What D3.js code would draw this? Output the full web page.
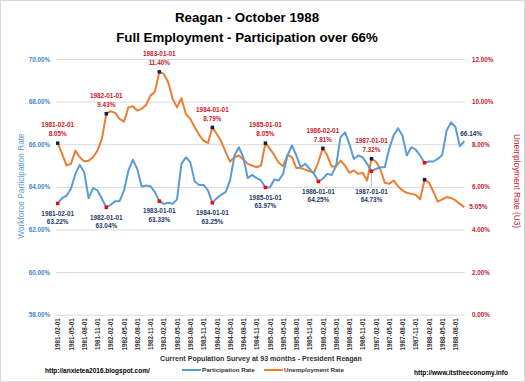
<!DOCTYPE html>
<html><head><meta charset="utf-8">
<script src="https://cdn.jsdelivr.net/npm/d3@7/dist/d3.min.js"></script>
<style>
html,body{margin:0;padding:0;background:#fff;}
svg{display:block;font-family:"Liberation Sans",Arial,sans-serif;}
</style></head>
<body>
<svg id="chart" width="525" height="382"></svg>
<script>
// ---------- DATA ----------
const startMonth = "1981-02-01";
const monthCount = 93;
const participation = [
 63.22,63.47,63.59,63.91,64.61,65.03,64.69,63.47,63.94,63.83,63.44,
 63.04,63.16,63.33,63.33,63.83,64.77,65.27,64.84,64.02,64.06,64.03,63.75,
 63.33,63.20,63.25,63.20,63.41,65.08,65.39,65.16,64.25,64.09,64.09,63.83,
 63.25,63.47,63.63,63.75,64.30,65.47,65.86,65.39,64.41,64.56,64.41,64.30,
 63.97,63.97,64.34,64.30,64.61,65.47,65.94,65.47,64.92,65.08,64.84,64.61,
 64.25,64.38,64.61,64.56,65.00,66.33,66.56,66.02,65.31,65.47,65.39,65.08,
 64.73,64.84,64.92,64.92,65.78,66.41,66.75,66.41,65.47,65.86,65.75,65.47,
 65.13,65.19,65.19,65.31,65.50,66.64,67.03,66.80,65.91,66.14
];
const unemployment = [
 8.05,7.55,7.00,7.08,7.70,7.39,7.20,7.23,7.39,7.70,8.25,
 9.43,9.55,9.47,9.19,9.06,9.73,9.78,9.58,9.66,9.84,10.28,10.47,
 11.40,11.30,10.91,10.13,9.73,10.16,9.42,9.19,8.80,8.44,8.17,8.06,
 8.79,8.48,8.13,7.63,7.19,7.39,7.47,7.28,7.08,7.00,6.92,7.00,
 8.05,7.78,7.50,7.13,6.97,7.50,7.39,6.88,6.88,6.81,6.73,6.66,
 7.19,7.81,7.47,6.95,6.97,7.23,7.00,6.66,6.77,6.61,6.66,6.30,
 7.32,7.19,6.84,6.19,6.14,6.30,6.03,5.83,5.72,5.67,5.63,5.41,
 6.34,6.19,5.78,5.31,5.41,5.52,5.48,5.36,5.20,5.05
];
const leftTicks = [58,60,62,64,66,68,70];
const rightTicks = [0,2,4,6,8,10,12];
const xTickLabels = [
 "1981-02-01","1981-05-01","1981-08-01","1981-11-01","1982-02-01","1982-05-01","1982-08-01","1982-11-01",
 "1983-02-01","1983-05-01","1983-08-01","1983-11-01","1984-02-01","1984-05-01","1984-08-01","1984-11-01",
 "1985-02-01","1985-05-01","1985-08-01","1985-11-01","1986-02-01","1986-05-01","1986-08-01","1986-11-01",
 "1987-02-01","1987-05-01","1987-08-01","1987-11-01","1988-02-01","1988-05-01","1988-08-01"
];
const unemploymentPeaks = ["1981-02-01","1982-01-01","1983-01-01","1984-01-01","1985-01-01","1986-02-01","1987-01-01"];
const participationLows = ["1981-02-01","1982-01-01","1983-01-01","1984-01-01","1985-01-01","1986-01-01","1987-01-01"];
const unlabeledMarks = ["1988-01-01"];
const titleLines = ["Reagan - October 1988","Full Employment - Participation over 66%"];

// ---------- SETUP ----------
const fmtDate = d3.timeFormat("%Y-%m-%d");
const parse = d3.timeParse("%Y-%m-%d");
const start = parse(startMonth);
const dates = d3.timeMonth.range(start, d3.timeMonth.offset(start, monthCount)).map(fmtDate);
const rows = dates.map((d,i)=>({date:d, p:participation[i], u:unemployment[i]}));
const byDate = new Map(rows.map(r=>[r.date,r]));

const svg = d3.select("#chart");
const W = 525, H = 382;
const plot = {left:57.7, right:464.3, top:59, bottom:314.7};
const gridL = 56, gridR = 465;

const BLUE = "#5B9BD5", ORANGE = "#ED7D31";
const BLUE_TXT = "#3F86CF", RED_TXT = "#C8202A", NAVY = "#1F3864", DARK = "#333333";

svg.append("rect").attr("x",0.5).attr("y",0.5).attr("width",W-1).attr("height",H-1)
  .attr("fill","#fff").attr("stroke","#d9d9d9");

const x = d3.scalePoint().domain(dates).range([plot.left, plot.right]);
const yL = d3.scaleLinear().domain([58,70]).range([plot.bottom, plot.top]);
const yR = d3.scaleLinear().domain([0,12]).range([plot.bottom, plot.top]);
const pct = v => d3.format(".2f")(v) + "%";

// title
svg.append("g").selectAll("text").data(titleLines).join("text")
  .attr("x",247).attr("y",(d,i)=>22+i*20)
  .attr("text-anchor","middle").attr("font-weight","bold").attr("font-size",13.3)
  .attr("fill","#000").text(d=>d);

// left axis + gridlines
const gL = svg.append("g").attr("transform",`translate(${gridL},0)`)
  .call(d3.axisLeft(yL).tickValues(leftTicks).tickSize(-(gridR-gridL)).tickPadding(6).tickFormat(pct));
gL.select(".domain").remove();
gL.selectAll(".tick line").attr("stroke","#d9d9d9").attr("stroke-width",1);
gL.selectAll(".tick text").attr("fill",BLUE_TXT).attr("font-weight","bold").attr("font-size",6.3)
  .attr("font-family","'Liberation Sans',Arial,sans-serif");

// right axis
const gR = svg.append("g").attr("transform",`translate(${gridR},0)`)
  .call(d3.axisRight(yR).tickValues(rightTicks).tickSize(0).tickPadding(7).tickFormat(pct));
gR.select(".domain").remove();
gR.selectAll(".tick text").attr("fill",RED_TXT).attr("font-weight","bold").attr("font-size",6.3)
  .attr("font-family","'Liberation Sans',Arial,sans-serif");

// x axis
const gX = svg.append("g").attr("transform",`translate(0,${plot.bottom})`)
  .call(d3.axisBottom(x).tickValues(xTickLabels).tickSize(0).tickPadding(0));
gX.select(".domain").remove();
gX.selectAll(".tick text")
  .attr("transform","rotate(-90)").attr("text-anchor","end")
  .attr("x",-3.5).attr("y",0).attr("dy","0.35em")
  .attr("fill",DARK).attr("font-weight","bold").attr("font-size",6.3)
  .attr("font-family","'Liberation Sans',Arial,sans-serif");

// axis titles
svg.append("text").attr("transform","translate(24,186) rotate(-90)")
  .attr("text-anchor","middle").attr("font-size",8.3).attr("fill",BLUE)
  .text("Workforce Participation Rate");
svg.append("text").attr("transform","translate(514,181) rotate(90)")
  .attr("text-anchor","middle").attr("font-size",8.3).attr("fill",RED_TXT)
  .text("Unemployment Rate (U3)");
svg.append("text").attr("x",261).attr("y",361).attr("text-anchor","middle")
  .attr("font-weight","bold").attr("font-size",7.1).attr("fill",DARK)
  .text("Current Population Survey at 93 months - President Reagan");

// lines
const lineP = d3.line().x(d=>x(d.date)).y(d=>yL(d.p));
const lineU = d3.line().x(d=>x(d.date)).y(d=>yR(d.u));
svg.append("path").datum(rows).attr("d",lineU).attr("fill","none")
  .attr("stroke",ORANGE).attr("stroke-width",2).attr("stroke-linejoin","round");
svg.append("path").datum(rows).attr("d",lineP).attr("fill","none")
  .attr("stroke",BLUE).attr("stroke-width",2).attr("stroke-linejoin","round");

// leader line for 1987-01 participation label
{
  const r = byDate.get("1987-01-01");
  svg.append("line").attr("x1",x(r.date)).attr("x2",x(r.date))
    .attr("y1",yL(r.p)+2).attr("y2",yL(r.p)+15).attr("stroke","#bfbfbf").attr("stroke-width",1);
}

// markers
const uMarks = unemploymentPeaks.concat(unlabeledMarks).map(d=>byDate.get(d));
const pMarks = participationLows.concat(unlabeledMarks).map(d=>byDate.get(d));
svg.append("g").selectAll("rect").data(uMarks).join("rect")
  .attr("x",d=>x(d.date)-1.75).attr("y",d=>yR(d.u)-1.75).attr("width",3.5).attr("height",3.5)
  .attr("fill","#0d1f4f");
svg.append("g").selectAll("rect").data(pMarks).join("rect")
  .attr("x",d=>x(d.date)-1.75).attr("y",d=>yL(d.p)-1.75).attr("width",3.5).attr("height",3.5)
  .attr("fill","#ff0000");

// labels
const annFont = 6.4;
const uLab = svg.append("g").attr("font-weight","bold").attr("font-size",annFont)
  .attr("fill",RED_TXT).attr("text-anchor","middle");
unemploymentPeaks.forEach(dt=>{
  const r = byDate.get(dt);
  const cx = x(dt), cy = yR(r.u);
  uLab.append("text").attr("x",cx).attr("y",cy-18).attr("dy","0.35em").text(dt);
  uLab.append("text").attr("x",cx).attr("y",cy-9).attr("dy","0.35em").text(pct(r.u));
});
const pLab = svg.append("g").attr("font-weight","bold").attr("font-size",annFont)
  .attr("fill",NAVY).attr("text-anchor","middle");
participationLows.forEach(dt=>{
  const r = byDate.get(dt);
  const cx = x(dt), cy = yL(r.p);
  const off = dt==="1987-01-01" ? 20 : 10;
  pLab.append("text").attr("x",cx).attr("y",cy+off).attr("dy","0.35em").text(dt);
  pLab.append("text").attr("x",cx).attr("y",cy+off+8.7).attr("dy","0.35em").text(pct(r.p));
});
// end labels
{
  const r = rows[rows.length-1];
  svg.append("text").attr("x",x(r.date)-4).attr("y",yL(r.p)-7).attr("dy","0.35em")
    .attr("font-weight","bold").attr("font-size",annFont).attr("fill",NAVY).text(pct(r.p));
  svg.append("text").attr("x",x(r.date)+5).attr("y",yR(r.u)).attr("dy","0.35em")
    .attr("font-weight","bold").attr("font-size",annFont).attr("fill",RED_TXT).text(pct(r.u));
}

// legend
const legend = [{name:"Participation Rate",color:BLUE,x:182},{name:"Unemployment Rate",color:ORANGE,x:264}];
const lg = svg.append("g");
legend.forEach(l=>{
  lg.append("line").attr("x1",l.x).attr("x2",l.x+19).attr("y1",370).attr("y2",370)
    .attr("stroke",l.color).attr("stroke-width",2);
  lg.append("text").attr("x",l.x+20).attr("y",370).attr("dy","0.35em")
    .attr("font-weight","bold").attr("font-size",6.2).attr("fill",DARK).text(l.name);
});

// footer
svg.append("text").attr("x",45).attr("y",371).attr("dy","0.35em").attr("font-weight","bold")
  .attr("font-size",6.5).attr("fill","#000").text("http://anxietea2016.blogspot.com/");
svg.append("text").attr("x",414).attr("y",373).attr("dy","0.35em").attr("font-weight","bold")
  .attr("font-size",6.5).attr("fill","#000").text("http://www.itstheeconomy.info");
</script>
</body></html>
